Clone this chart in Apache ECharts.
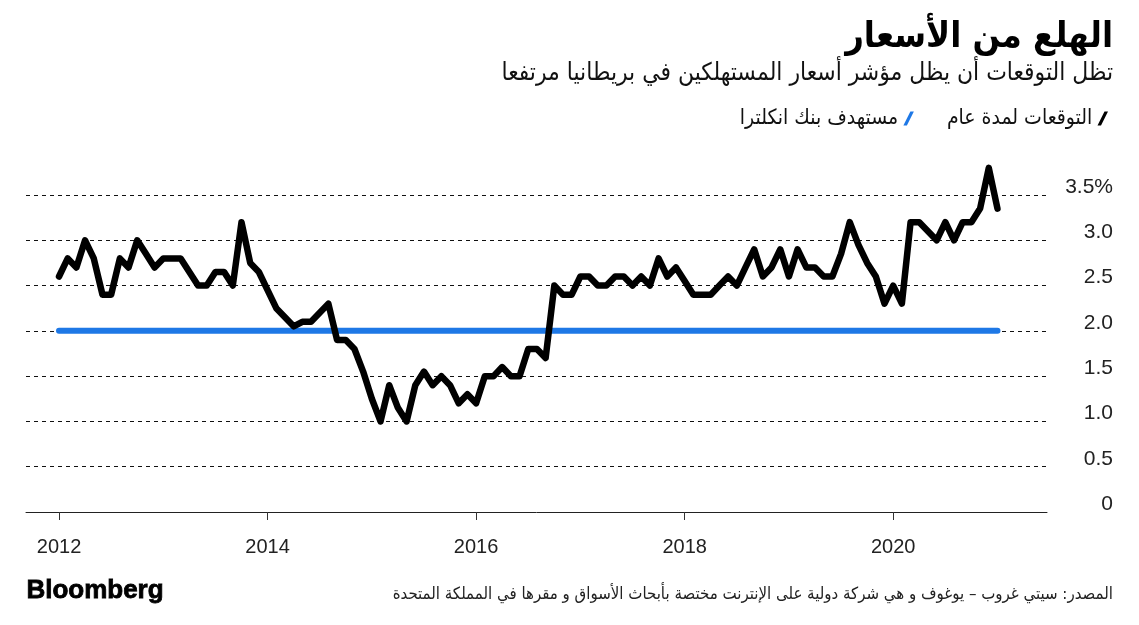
<!DOCTYPE html>
<html>
<head>
<meta charset="utf-8">
<script src="https://cdn.jsdelivr.net/npm/echarts@6/dist/echarts.min.js"></script>
<style>html,body{margin:0;padding:0;background:#fff}#c{width:1139px;height:625px}</style>
</head>
<body>
<div id="c"></div>
<script>
// One-year-ahead inflation expectations (monthly, starting Jan 2012)
const startYear = 2012;
const v2012 = [2.6, 2.8, 2.7, 3.0, 2.8, 2.4, 2.4, 2.8, 2.7, 3.0, 2.85, 2.7];
const v2013 = [2.8, 2.8, 2.8, 2.65, 2.5, 2.5, 2.65, 2.65, 2.5, 3.2, 2.75, 2.65];
const v2014 = [2.45, 2.25, 2.15, 2.05, 2.1, 2.1, 2.2, 2.3, 1.9, 1.9, 1.8, 1.55];
const v2015 = [1.25, 1.0, 1.4, 1.15, 1.0, 1.4, 1.55, 1.4, 1.5, 1.4, 1.2, 1.3];
const v2016 = [1.2, 1.5, 1.5, 1.6, 1.5, 1.5, 1.8, 1.8, 1.7, 2.5, 2.4, 2.4];
const v2017 = [2.6, 2.6, 2.5, 2.5, 2.6, 2.6, 2.5, 2.6, 2.5, 2.8, 2.6, 2.7];
const v2018 = [2.55, 2.4, 2.4, 2.4, 2.5, 2.6, 2.5, 2.7, 2.9, 2.6, 2.7, 2.9];
const v2019 = [2.6, 2.9, 2.7, 2.7, 2.6, 2.6, 2.85, 3.2, 2.95, 2.75, 2.6, 2.3];
const v2020 = [2.5, 2.3, 3.2, 3.2, 3.1, 3.0, 3.2, 3.0, 3.2, 3.2, 3.35, 3.8];
const v2021 = [3.35];
// Bank of England target
const boeTarget = 2.0;
// Axis labels
const yearTicks = [2012, 2014, 2016, 2018, 2020];
const yTicks = [0, 0.5, 1.0, 1.5, 2.0, 2.5, 3.0, 3.5];

const titleText = 'الهلع من الأسعار';
const subtitleText = 'تظل التوقعات أن يظل مؤشر أسعار المستهلكين في بريطانيا مرتفعا';
const seriesExp = 'التوقعات لمدة عام';
const seriesBoe = 'مستهدف بنك انكلترا';
const sourceText = 'المصدر: سيتي غروب – يوغوف و هي شركة دولية على الإنترنت مختصة بأبحاث الأسواق و مقرها في المملكة المتحدة';

const allVals = [].concat(v2012, v2013, v2014, v2015, v2016, v2017, v2018, v2019, v2020, v2021);
const expData = allVals.map((v, i) => [i, v]);
const boeData = [[0, boeTarget], [allVals.length - 1, boeTarget]];
const tickMonths = yearTicks.map(y => (y - startYear) * 12);

const arFont = '"DejaVu Sans Condensed","DejaVu Sans",sans-serif';
const numFont = '"Liberation Sans","Helvetica",Arial,sans-serif';
const slash = 'path://M0,12 L6,0 L9,0 L3,12 Z';

const chart = echarts.init(document.getElementById('c'), null, {renderer: 'canvas'});
chart.setOption({
  animation: false,
  backgroundColor: '#ffffff',
  grid: {left: 26, right: 92, top: 195, bottom: 113, containLabel: false},
  legend: {
    right: 26, top: 103,
    data: [
      {name: seriesBoe, icon: slash, itemStyle: {color: '#1e78e6'}},
      {name: seriesExp, icon: slash, itemStyle: {color: '#000'}}
    ],
    align: 'right',
    itemWidth: 11, itemHeight: 14, itemGap: 33,
    textStyle: {fontFamily: arFont, fontSize: 21, color: '#111'},
    selectedMode: false
  },
  xAxis: {
    type: 'value',
    min: -3.8, max: 113.7,
    splitLine: {show: false},
    axisLine: {show: true, lineStyle: {color: '#222', width: 1}},
    axisTick: {show: true, customValues: tickMonths, length: 8, lineStyle: {color: '#333', width: 1}},
    axisLabel: {
      customValues: tickMonths,
      formatter: v => String(startYear + Math.round(v / 12)),
      margin: 25, fontFamily: numFont, fontSize: 20, color: '#222'
    }
  },
  yAxis: {
    type: 'value', position: 'right',
    min: 0, max: 3.5, interval: 0.5,
    axisLine: {show: false}, axisTick: {show: false},
    splitLine: {show: true, lineStyle: {color: '#111', type: [4, 4], width: 1}},
    axisLabel: {
      formatter: v => v === 3.5 ? '3.5%' : (v === 0 ? '0' : v.toFixed(1)),
      align: 'right', margin: 66, verticalAlign: 'bottom', lineHeight: 16,
      fontFamily: numFont, fontSize: 21, color: '#222'
    }
  },
  graphic: [
    {type: 'text', right: 26, top: 20, style: {text: titleText, font: 'bold 36px ' + arFont, fill: '#000'}},
    {type: 'text', right: 26, top: 62, style: {text: subtitleText, font: '24.4px ' + arFont, fill: '#111'}},
    {type: 'text', left: 26, top: 577, style: {text: 'Bloomberg', font: 'bold 26px ' + numFont, fill: '#000', stroke: '#000', lineWidth: 0.8}},
    {type: 'text', right: 26, top: 586, style: {text: sourceText, font: '16.7px ' + arFont, fill: '#222'}}
  ],
  series: [
    {
      name: seriesBoe, type: 'line', data: boeData, symbol: 'none',
      lineStyle: {color: '#1e78e6', width: 6, cap: 'round'}, z: 2
    },
    {
      name: seriesExp, type: 'line', data: expData, symbol: 'none', clip: false,
      lineStyle: {color: '#000', width: 6.5, cap: 'round', join: 'round'}, z: 3
    }
  ]
});
</script>
</body>
</html>
